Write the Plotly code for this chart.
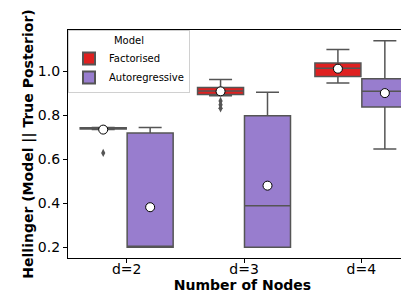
import plotly.graph_objects as go

categories = ["d=2", "d=3", "d=4"]
models = ["Factorised", "Autoregressive"]

fact_q1 = [0.738, 0.895, 0.977]
fact_median = [0.741, 0.910, 1.014]
fact_q3 = [0.743, 0.927, 1.038]
fact_lower = [0.736, 0.889, 0.947]
fact_upper = [0.745, 0.963, 1.099]
fact_mean = [0.735, 0.909, 1.012]
fact_outliers = {0: [0.629], 1: [0.865, 0.848, 0.832], 2: []}

ar_q1 = [0.200, 0.200, 0.838]
ar_median = [0.200, 0.389, 0.909]
ar_q3 = [0.720, 0.798, 0.966]
ar_lower = [0.200, 0.200, 0.647]
ar_upper = [0.744, 0.905, 1.139]
ar_mean = [0.382, 0.480, 0.901]
ar_outliers = {0: [], 1: [], 2: []}

y_ticks = [0.2, 0.4, 0.6, 0.8, 1.0]

colors = ["#df2020", "#987dce"]
edge = "#555555"
offset = 0.2
box_w = 0.392

series = [
    (fact_q1, fact_median, fact_q3, fact_lower, fact_upper, fact_mean, fact_outliers),
    (ar_q1, ar_median, ar_q3, ar_lower, ar_upper, ar_mean, ar_outliers),
]

fig = go.Figure()
for k, (q1, med, q3, lo, up, mean, outl) in enumerate(series):
    sign = -1 if k == 0 else 1
    xs = [i + sign * offset for i in range(len(categories))]
    fig.add_trace(go.Box(
        x=xs, q1=q1, median=med, q3=q3, lowerfence=lo, upperfence=up,
        name=models[k], fillcolor=colors[k], line=dict(color=edge, width=1.5),
        width=box_w, whiskerwidth=0.5, boxpoints=False, showlegend=True,
    ))
    ox, oy = [], []
    for i in range(len(categories)):
        for v in outl[i]:
            ox.append(i + sign * offset)
            oy.append(v)
    if ox:
        fig.add_trace(go.Scatter(
            x=ox, y=oy, mode="markers", showlegend=False, hoverinfo="skip",
            marker=dict(symbol="diamond-tall", size=6, color=edge, line=dict(width=0)),
        ))
    fig.add_trace(go.Scatter(
        x=xs, y=mean, mode="markers", showlegend=False,
        marker=dict(symbol="circle", size=9, color="white", line=dict(color="black", width=1)),
    ))

font = "DejaVu Sans, sans-serif"
fig.update_layout(
    width=409, height=292,
    margin=dict(l=60, r=0, t=22, b=42),
    paper_bgcolor="white", plot_bgcolor="white",
    font=dict(family=font, color="black"),
    legend=dict(
        title=dict(text="Model", side="top center", font=dict(size=10)),
        x=0.0, y=1.0, xanchor="left", yanchor="top",
        font=dict(size=10), bordercolor="#d0d0d0", borderwidth=1,
        bgcolor="rgba(255,255,255,0.8)", tracegroupgap=0, itemsizing="constant",
    ),
)
fig.update_xaxes(
    range=[-0.5, 2.474], tickvals=list(range(len(categories))), ticktext=categories,
    showgrid=False, zeroline=False, showline=True, linecolor="black", linewidth=1.2,
    mirror=True, ticks="outside", ticklen=4, tickcolor="black",
    tickfont=dict(size=14), ticklabelstandoff=-6,
    title=dict(text="<b>Number of Nodes</b>", font=dict(size=14), standoff=0),
)
fig.update_yaxes(
    range=[0.151, 1.188], tickvals=y_ticks, tickformat=".1f",
    showgrid=False, zeroline=False, showline=True, linecolor="black", linewidth=1.2,
    ticks="outside", ticklen=4, tickcolor="black",
    tickfont=dict(size=14),
    title=dict(text="<b>Hellinger (Model || True Posterior)</b>", font=dict(size=14), standoff=0),
)
fig.write_html("out.html")
